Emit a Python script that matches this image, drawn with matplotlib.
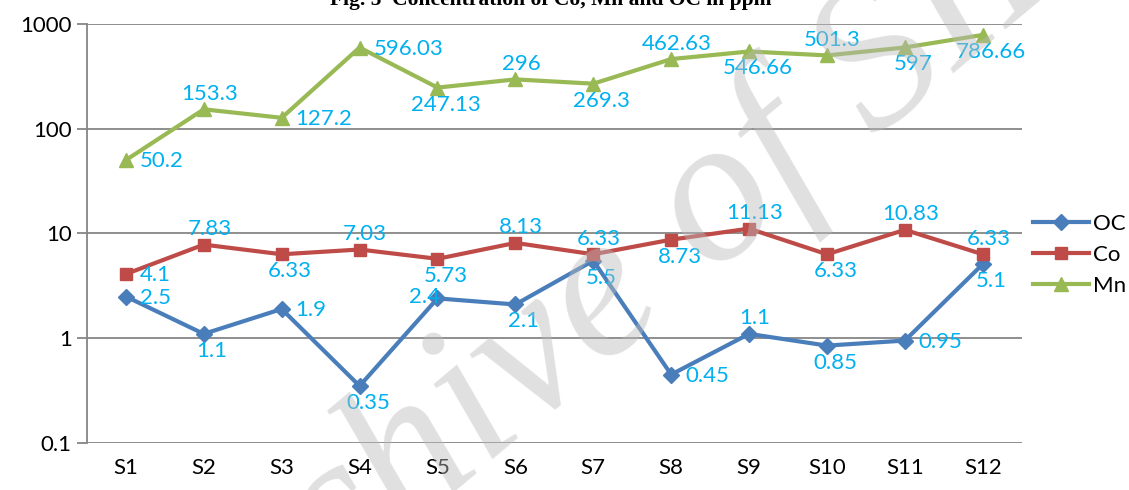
"""
plot.py
Concentration of Co, Mn and OC in ppm, log scale line chart.
"""

import matplotlib.pyplot as plt
import numpy as np

# Data
samples = ['S1', 'S2', 'S3', 'S4', 'S5', 'S6', 'S7', 'S8', 'S9', 'S10', 'S11', 'S12']
oc = [2.5, 1.1, 1.9, 0.35, 2.4, 2.1, 5.5, 0.45, 1.1, 0.85, 0.95, 5.1]
co = [4.1, 7.83, 6.33, 7.03, 5.73, 8.13, 6.33, 8.73, 11.13, 6.33, 10.83, 6.33]
mn = [50.2, 153.3, 127.2, 596.03, 247.13, 296, 269.3, 462.63, 546.66, 501.3, 597, 786.66]
oc_text = ['2.5', '1.1', '1.9', '0.35', '2.4', '2.1', '5.5', '0.45', '1.1', '0.85', '0.95', '5.1']
co_text = ['4.1', '7.83', '6.33', '7.03', '5.73', '8.13', '6.33', '8.73', '11.13', '6.33', '10.83', '6.33']
mn_text = ['50.2', '153.3', '127.2', '596.03', '247.13', '296', '269.3', '462.63',
           '546.66', '501.3', '597', '786.66']
y_ticks = [0.1, 1, 10, 100, 1000]
y_tick_text = ['0.1', '1', '10', '100', '1000']

# Where each data label sits relative to its point (r=right, l=left, a=above, b=below)
oc_place = ['r', 'b', 'r', 'b', 'l', 'b', 'b', 'r', 'a', 'b', 'r', 'b']
co_place = ['r', 'a', 'b', 'a', 'b', 'a', 'a', 'b', 'a', 'b', 'a', 'a']
mn_place = ['r', 'a', 'r', 'r', 'b', 'a', 'b', 'a', 'b', 'a', 'b', 'b']

FONT = 'Lato'
LABEL_COLOR = '#00B0F0'
GRID_COLOR = '#868686'

plt.rcParams['font.family'] = [FONT, 'DejaVu Sans']

fig = plt.figure(figsize=(11.29, 4.9), dpi=100)
ax = fig.add_axes([0.077, 0.096, 0.828, 0.855])

x = np.arange(len(samples))

series = [('OC', oc, oc_text, oc_place, '#4A7EBB', 'D', 8),
          ('Co', co, co_text, co_place, '#BE4B48', 's', 9),
          ('Mn', mn, mn_text, mn_place, '#98B954', '^', 10)]

for name, vals, texts, places, color, marker, ms in series:
    ax.plot(x, vals, color=color, lw=3, marker=marker, markersize=ms,
            label=name, zorder=3)

offsets = {'r': ((10, -1), 'left', 'center'),
           'l': ((2, 1), 'right', 'center'),
           'a': ((4, 4), 'center', 'bottom'),
           'b': ((6, -5), 'center', 'top')}

for name, vals, texts, places, color, marker, ms in series:
    for xi, v, t, p in zip(x, vals, texts, places):
        off, ha, va = offsets[p]
        ax.annotate(t, (xi, v), xytext=off, textcoords='offset points',
                    ha=ha, va=va, fontsize=16, color=LABEL_COLOR, zorder=4)

ax.set_yscale('log')
ax.set_ylim(0.1, 1000)
ax.set_xlim(-0.5, len(samples) - 0.5)
ax.set_yticks(y_ticks)
ax.set_yticklabels(y_tick_text)
ax.minorticks_off()
ax.set_xticks(x)
ax.set_xticklabels(samples)
ax.tick_params(axis='y', labelsize=16, length=7, color=GRID_COLOR, width=1.3, pad=4)
ax.tick_params(axis='x', labelsize=16, length=0, pad=11)

for t in y_ticks:
    ax.axhline(t, color=GRID_COLOR, lw=1.3, zorder=1)
for s in ['top', 'right', 'bottom']:
    ax.spines[s].set_visible(False)
ax.spines['left'].set_color(GRID_COLOR)
ax.spines['left'].set_linewidth(1.3)

ax.legend(loc='center left', bbox_to_anchor=(1033 / 1129, 0.48),
          bbox_transform=fig.transFigure, frameon=False,
          fontsize=16, handlelength=2.5, handletextpad=0.2,
          labelspacing=0.5, borderaxespad=0, borderpad=0)

# Title, cut off at the top edge in the source
fig.text(0.488, 0.99, 'Fig. 5  Concentration of Co, Mn and OC in ppm',
         ha='center', va='baseline', fontsize=15.5, fontweight='bold',
         family='Liberation Serif')

# Faint watermark across the chart
fig.text(0.55, 0.40, 'Archive of SID', rotation=40, fontsize=150,
         family='Liberation Serif', style='italic', color='#BBBBBB',
         alpha=0.45, ha='center', va='center', zorder=10)

fig.savefig('out.png', dpi=100)
